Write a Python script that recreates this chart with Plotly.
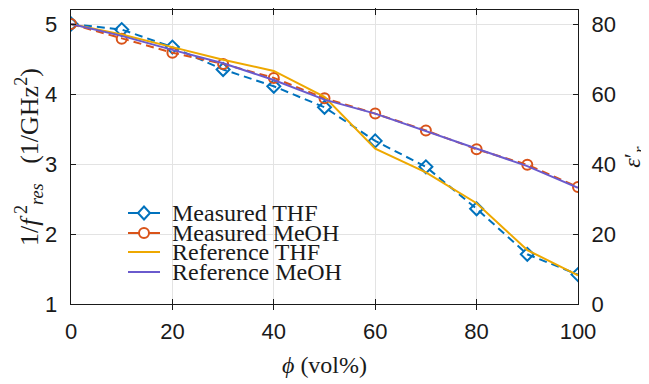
import plotly.graph_objects as go

phi = [0, 10, 20, 30, 40, 50, 60, 70, 80, 90, 100]
meas_thf = [5.00, 4.92, 4.67, 4.35, 4.11, 3.81, 3.33, 2.96, 2.36, 1.71, 1.42]
meas_meoh = [5.00, 4.79, 4.59, 4.43, 4.23, 3.94, 3.72, 3.48, 3.21, 2.99, 2.67]
ref_thf = [5.00, 4.85, 4.67, 4.49, 4.33, 3.96, 3.22, 2.88, 2.44, 1.77, 1.41]
ref_meoh = [5.00, 4.83, 4.63, 4.44, 4.20, 3.92, 3.72, 3.47, 3.21, 2.97, 2.66]

names = ["Measured THF", "Measured MeOH", "Reference THF", "Reference MeOH"]
colors = ["#0072BD", "#D95319", "#EEA800", "#6A5ACD"]

x_ticks = [0, 20, 40, 60, 80, 100]
y_ticks = [1, 2, 3, 4, 5]
y_tick_labels = ["1", "2", "3", "4", "5"]
y2_ticks = [0, 20, 40, 60, 80]
y_range = [1, 5.2]
y2_range = [0, 84]

SERIF = "Liberation Serif, Times New Roman, serif"
SANS = "Liberation Sans, Arial, sans-serif"
INK = "#1a1a1a"

fig = go.Figure()
fig.add_trace(go.Scatter(x=phi, y=meas_thf, name=names[0], mode="lines+markers",
                         line=dict(color=colors[0], width=2, dash="8px,5px"),
                         marker=dict(symbol="diamond-open", size=10, line=dict(width=2, color=colors[0]))))
fig.add_trace(go.Scatter(x=phi, y=meas_meoh, name=names[1], mode="lines+markers",
                         line=dict(color=colors[1], width=2, dash="8px,5px"),
                         marker=dict(symbol="circle-open", size=10, line=dict(width=2, color=colors[1]))))
fig.add_trace(go.Scatter(x=phi, y=ref_thf, name=names[2], mode="lines",
                         line=dict(color=colors[2], width=2)))
fig.add_trace(go.Scatter(x=phi, y=ref_meoh, name=names[3], mode="lines",
                         line=dict(color=colors[3], width=2)))
# right-hand permittivity scale (invisible; only anchors y2)
eps_meoh = [(v - y_range[0]) * (y2_range[1] - y2_range[0]) / (y_range[1] - y_range[0]) for v in ref_meoh]
fig.add_trace(go.Scatter(x=phi, y=eps_meoh, yaxis="y2", mode="lines", opacity=0,
                         line=dict(width=0), hoverinfo="skip", showlegend=False))

# compact legend (pixel offsets from plot-area bottom-left)
rows_py = [91, 71, 52, 32]
shapes = []
annotations = []
for i, (nm, c, yp) in enumerate(zip(names, colors, rows_py)):
    shapes.append(dict(type="line", xref="paper", yref="paper", xsizemode="pixel", ysizemode="pixel",
                       xanchor=0, yanchor=0, x0=57, x1=89, y0=yp, y1=yp,
                       line=dict(color=c, width=2)))
    if i == 0:
        shapes.append(dict(type="path", xref="paper", yref="paper", xsizemode="pixel", ysizemode="pixel",
                           xanchor=0, yanchor=0,
                           path=f"M 73 {yp-6.5} L 79 {yp} L 73 {yp+6.5} L 67 {yp} Z",
                           fillcolor="white", line=dict(color=c, width=2)))
    if i == 1:
        shapes.append(dict(type="circle", xref="paper", yref="paper", xsizemode="pixel", ysizemode="pixel",
                           xanchor=0, yanchor=0, x0=68, x1=78, y0=yp-5, y1=yp+5,
                           fillcolor="white", line=dict(color=c, width=2)))
    annotations.append(dict(text=nm, xref="paper", yref="paper", x=(170 - 71) / 507, y=yp / 295,
                            xanchor="left", yanchor="middle", showarrow=False,
                            font=dict(family=SERIF, size=24, color=INK)))

# left-axis tick labels, placed through the y scale
for v, lab in zip(y_ticks, y_tick_labels):
    annotations.append(dict(text=lab, xref="paper", x=0, xanchor="right", xshift=-12,
                            yref="y", y=v, yanchor="middle", showarrow=False,
                            font=dict(family=SANS, size=22, color=INK)))
# left-axis title
annotations.append(dict(text="1/<i>f</i><sup> 2</sup><sub><i>res</i></sub>   (1/GHz<sup>2</sup>)",
                        textangle=-90, xref="paper", x=0, xshift=-42, xanchor="center",
                        yref="paper", y=0.50, yanchor="middle", showarrow=False,
                        font=dict(family=SERIF, size=26, color=INK)))

# page body adds an 8px offset: size figure so the plot area lands at x 71..578, y 9.5..304.5
fig.update_layout(
    width=641, height=376,
    margin=dict(l=63, r=71, t=1.5, b=79.5),
    paper_bgcolor="white", plot_bgcolor="white",
    showlegend=False,
    shapes=shapes, annotations=annotations,
    xaxis=dict(range=[0, 100], tickvals=x_ticks, ticks="inside", ticklen=5, tickcolor=INK,
               showline=True, linecolor=INK, linewidth=1, mirror="allticks", automargin=False,
               ticklabelstandoff=8,
               showgrid=True, gridcolor="#E3E3E3", gridwidth=1, zeroline=False,
               tickfont=dict(family=SANS, size=22, color=INK),
               title=dict(text="<i>ϕ</i> (vol%)", font=dict(family=SERIF, size=24, color=INK), standoff=12)),
    yaxis=dict(range=y_range, tickvals=y_ticks, ticks="inside", ticklen=5, tickcolor=INK,
               showline=True, linecolor=INK, linewidth=1, automargin=False, showticklabels=False,
               showgrid=True, gridcolor="#E3E3E3", gridwidth=1, zeroline=False),
    yaxis2=dict(range=y2_range, tickvals=y2_ticks, overlaying="y", side="right", ticks="inside",
                ticklen=5, tickcolor=INK, showline=True, linecolor=INK, linewidth=1, automargin=False,
                ticklabelstandoff=8,
                showgrid=False, zeroline=False,
                tickfont=dict(family=SANS, size=22, color=INK),
                title=dict(text="<i>ε</i>′<sub><i>r</i></sub>", font=dict(family=SERIF, size=24, color=INK), standoff=10)),
)

fig.write_html("out.html")
